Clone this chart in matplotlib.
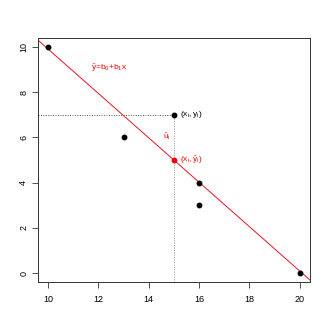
import matplotlib
matplotlib.use('Agg')
import matplotlib.pyplot as plt
import numpy as np

# data
x = [10, 13, 15, 16, 16, 20]
y = [10, 6, 7, 4, 3, 0]
xi, yi = 15, 7  # highlighted observation
x_ticks = [10, 12, 14, 16, 18, 20]
y_ticks = [0, 2, 4, 6, 8, 10]

plt.rcParams['font.family'] = 'Liberation Sans'
plt.rcParams['mathtext.default'] = 'regular'

b1, b0 = np.polyfit(x, y, 1)
yhat_i = b0 + b1 * xi

fig = plt.figure(figsize=(3.3, 3.3), dpi=100)
ax = fig.add_axes([0.115, 0.145, 0.824, 0.74])

ax.set_xlim(9.6, 20.4)
ax.set_ylim(-0.4, 10.4)

# regression line across the whole box
xl = np.array([9.6, 20.4])
ax.plot(xl, b0 + b1 * xl, color='#e8132a', lw=0.7, zorder=2)

# dotted guides
ax.plot([9.6, xi], [yi, yi], color='#555555', lw=0.7, ls=(0, (1, 1.5)), zorder=1)
ax.plot([xi, xi], [-0.4, yi], color='#999999', lw=0.7, ls=(0, (1, 1.5)), zorder=1)

ax.plot(x, y, 'o', color='black', markersize=3.2, zorder=3)
ax.plot([xi], [yhat_i], 'o', color='red', markersize=3.2, zorder=4)

ax.text(xi + 0.25, yi, r'$(x_i,y_i)$', fontsize=6, va='center', ha='left', color='black')
ax.text(xi + 0.25, yhat_i, r'$(x_i,\hat{y}_i)$', fontsize=6, va='center', ha='left', color='red')
ax.text(xi - 0.3, 6.05, r'$\hat{u}_i$', fontsize=6, va='center', ha='center', color='red')
ax.text(11.7, 9.05, r'$\hat{y}$=$b_0$+$b_1$x', fontsize=6, va='center', ha='left', color='red')

ax.set_xticks(x_ticks)
ax.set_yticks(y_ticks)
ax.tick_params(labelsize=6.5, length=4, width=0.6, color='#333333')
ax.tick_params(axis='x', pad=5)
ax.tick_params(axis='y', pad=3)
for lab in ax.get_yticklabels():
    lab.set_rotation(90)
    lab.set_va('center')
for s in ax.spines.values():
    s.set_linewidth(0.7)
    s.set_color('#333333')

fig.savefig('out.png', dpi=100)
